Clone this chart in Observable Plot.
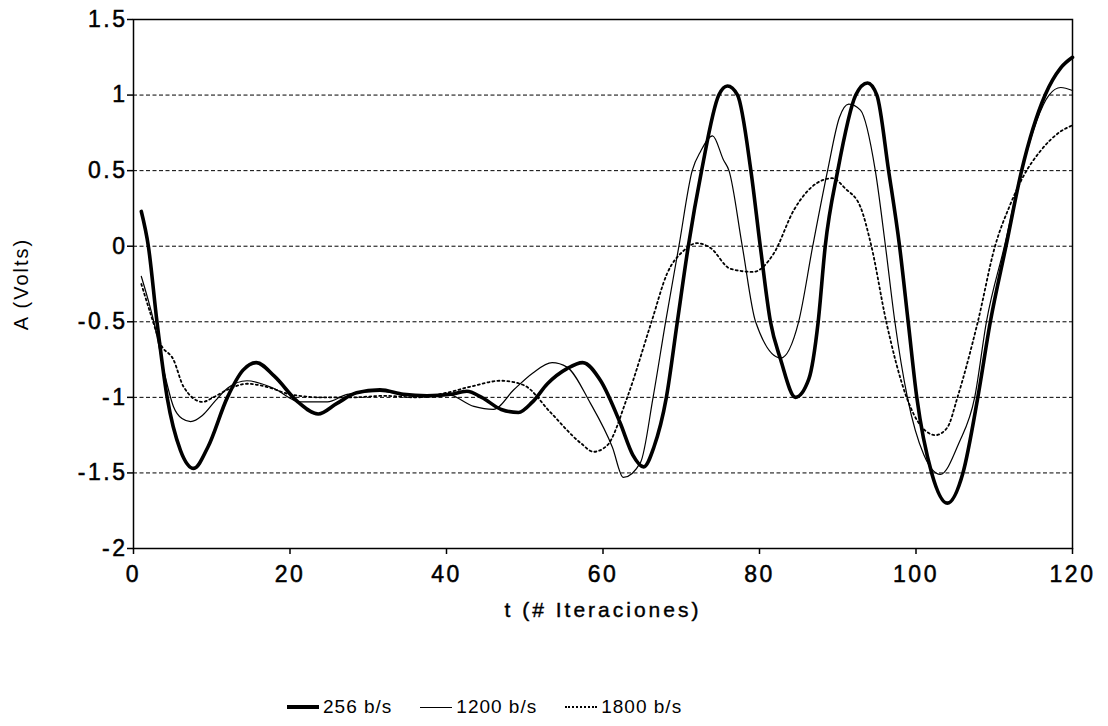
<!DOCTYPE html>
<html>
<head>
<meta charset="utf-8">
<script src="https://cdn.jsdelivr.net/npm/d3@7"></script>
<script src="https://cdn.jsdelivr.net/npm/@observablehq/plot@0.6"></script>
<style>
  body { margin: 0; background: #fff; font-family: "Liberation Sans", Arial, sans-serif; }
  #chart svg { display: block; }
  #legend { display: flex; align-items: center; justify-content: flex-start; padding-left: 287px; height: 30px; margin-top: 52px; font-size: 19px; letter-spacing: 1px; color: #000; }
  .item { display: flex; align-items: center; margin-right: 28px; }
  .sw { width: 32px; margin-right: 4px; }
</style>
</head>
<body>
<div id="chart"></div>
<div id="legend"></div>
<script>
const xTicks = [0, 20, 40, 60, 80, 100, 120];
const yTicks = [-2, -1.5, -1, -0.5, 0, 0.5, 1, 1.5];
const gridY = [-1.5, -1, -0.5, 0, 0.5, 1];
const seriesNames = ["256 b/s", "1200 b/s", "1800 b/s"];

const t256 = [1, 1.9, 3.0, 4.3, 6, 7.7, 9.5, 12, 14, 15.7, 18, 21, 23.6, 26, 28.5, 31.5, 34.5, 37.5, 40.5, 42.6, 44.5, 47, 49.2, 51, 52.9, 55.4, 57.4, 59.7, 62.2, 63.8, 65.2, 66.5, 68.1, 69.5, 70.9, 72.6, 74.8, 75.9, 77.2, 78.9, 80.1, 81.4, 82.7, 84.6, 86.3, 87.5, 88.4, 90, 92.3, 93.8, 95, 96.5, 97.9, 99, 100.1, 102, 104, 106, 107.9, 109.5, 111.5, 113.5, 116.5, 118.5, 120];
const v256 = [0.23, 0, -0.5, -1.0, -1.35, -1.47, -1.33, -1.0, -0.82, -0.77, -0.86, -1.03, -1.11, -1.04, -0.97, -0.95, -0.98, -0.99, -0.98, -0.96, -1.0, -1.08, -1.10, -1.03, -0.91, -0.81, -0.77, -0.89, -1.17, -1.38, -1.46, -1.33, -1.0, -0.5, 0, 0.5, 1.0, 1.06, 1.0, 0.5, 0, -0.5, -0.75, -1.0, -0.88, -0.5, 0, 0.5, 1.0, 1.08, 1.0, 0.5, 0, -0.5, -1.0, -1.5, -1.70, -1.5, -1.0, -0.5, 0, 0.5, 1.0, 1.18, 1.25];

const t1200 = [1, 2.6, 4, 5.1, 6.2, 7.3, 8.8, 10.5, 12, 14.5, 17.9, 21.3, 24.8, 27.3, 31.5, 34.5, 37.5, 40.1, 43.5, 46, 48.6, 51, 53.5, 55.4, 58.4, 61.2, 62.6, 64.8, 66.4, 68, 69.7, 71.4, 72.5, 74, 75.4, 76.1, 77.8, 79.5, 82.7, 85, 86.8, 88.7, 90.2, 91.4, 92.9, 94.8, 96.1, 97.3, 98.9, 101, 103.1, 105.5, 107.5, 109, 111.3, 113.5, 117, 118.5, 120];
const v1200 = [-0.2, -0.5, -0.85, -1.06, -1.14, -1.16, -1.12, -1.02, -0.94, -0.89, -0.94, -1.03, -1.03, -0.98, -0.96, -0.98, -0.99, -0.98, -1.06, -1.08, -0.95, -0.84, -0.77, -0.80, -1.04, -1.33, -1.53, -1.43, -1.0, -0.5, 0, 0.5, 0.63, 0.73, 0.57, 0.5, 0, -0.5, -0.74, -0.5, 0, 0.5, 0.85, 0.94, 0.9, 0.5, 0, -0.5, -1.0, -1.38, -1.51, -1.3, -1.0, -0.5, 0, 0.5, 1.0, 1.05, 1.03];

const t1800 = [1, 2.2, 3.5, 5.1, 6.4, 8.8, 10.2, 12, 14.5, 17, 20, 24, 28, 32, 36, 40, 43, 47, 49.9, 53.3, 57.1, 58.8, 60.5, 63.1, 66.2, 68.2, 70.3, 72, 73.7, 76.3, 79.2, 81.8, 84.4, 87.4, 89.3, 91, 92.9, 94.3, 96.2, 98.8, 100.8, 102.5, 104, 105.3, 107.9, 110.1, 112, 113.8, 115.9, 118.5, 120];
const v1800 = [-0.25, -0.45, -0.65, -0.75, -0.93, -1.03, -1.0, -0.95, -0.91, -0.93, -0.98, -1.0, -1.0, -0.99, -1.0, -0.97, -0.93, -0.89, -0.92, -1.1, -1.3, -1.36, -1.32, -1.0, -0.5, -0.18, -0.03, 0.02, -0.01, -0.15, -0.17, -0.05, 0.24, 0.42, 0.45, 0.38, 0.26, 0, -0.5, -1.0, -1.2, -1.25, -1.2, -1.0, -0.5, 0, 0.27, 0.47, 0.63, 0.76, 0.8];

const toRows = (ts, vs) => ts.map((t, i) => ({t, v: vs[i]}));
const d256 = toRows(t256, v256);
const d1200 = toRows(t1200, v1200);
const d1800 = toRows(t1800, v1800);

const font = "Liberation Sans, Arial, sans-serif";
const chart = Plot.plot({
  width: 1108,
  height: 640,
  marginLeft: 133,
  marginRight: 36,
  marginTop: 19,
  marginBottom: 92,
  style: {fontFamily: font, background: "#fff", color: "#000"},
  x: {domain: [0, 120]},
  y: {domain: [-2, 1.5]},
  marks: [
    Plot.ruleY(gridY, {stroke: "#000", strokeWidth: 1, strokeDasharray: "4,2.5"}),
    Plot.frame({stroke: "#000", strokeWidth: 1.5}),
    Plot.axisX({ticks: xTicks, tickSize: 6, tickPadding: 11, fontSize: 23, stroke: "#000", strokeWidth: 1.5,
      label: null}),
    Plot.axisX({ticks: [], label: "t (# Iteraciones)", labelAnchor: "center", labelOffset: 68, labelArrow: "none", fontSize: 21}),
    Plot.axisY({ticks: yTicks, tickSize: 6, tickPadding: 0, fontSize: 23, stroke: "#000", strokeWidth: 1.5,
      tickFormat: d => String(d), label: null}),
    Plot.axisY({ticks: [], label: "A (Volts)", labelAnchor: "center", labelOffset: 120, labelArrow: "none", fontSize: 20}),
    Plot.line(d1800, {x: "t", y: "v", curve: "monotone-x", stroke: "#000", strokeWidth: 1.8, strokeDasharray: "2,3"}),
    Plot.line(d1200, {x: "t", y: "v", curve: "monotone-x", stroke: "#000", strokeWidth: 1.2}),
    Plot.line(d256, {x: "t", y: "v", curve: "monotone-x", stroke: "#000", strokeWidth: 3.6})
  ]
});
const svg = d3.select(chart);
svg.selectAll("g[aria-label='x-axis tick label'] text, g[aria-label='y-axis tick label'] text")
  .style("letter-spacing", "2.5px").style("stroke", "#000").style("stroke-width", "0.5px");
svg.selectAll("g[aria-label='x-axis label'] text").style("letter-spacing", "3px")
  .style("stroke", "#000").style("stroke-width", "0.4px");
svg.selectAll("g[aria-label='y-axis label'] text").style("letter-spacing", "2px");
document.getElementById("chart").append(chart);

const styles = ["border-top: 4px solid #000", "border-top: 1px solid #000", "border-top: 2px dotted #000"];
const legend = d3.select("#legend");
seriesNames.forEach((name, i) => {
  const it = legend.append("div").attr("class", "item");
  it.append("div").attr("class", "sw").attr("style", styles[i]);
  it.append("span").text(name);
});
</script>
</body>
</html>
